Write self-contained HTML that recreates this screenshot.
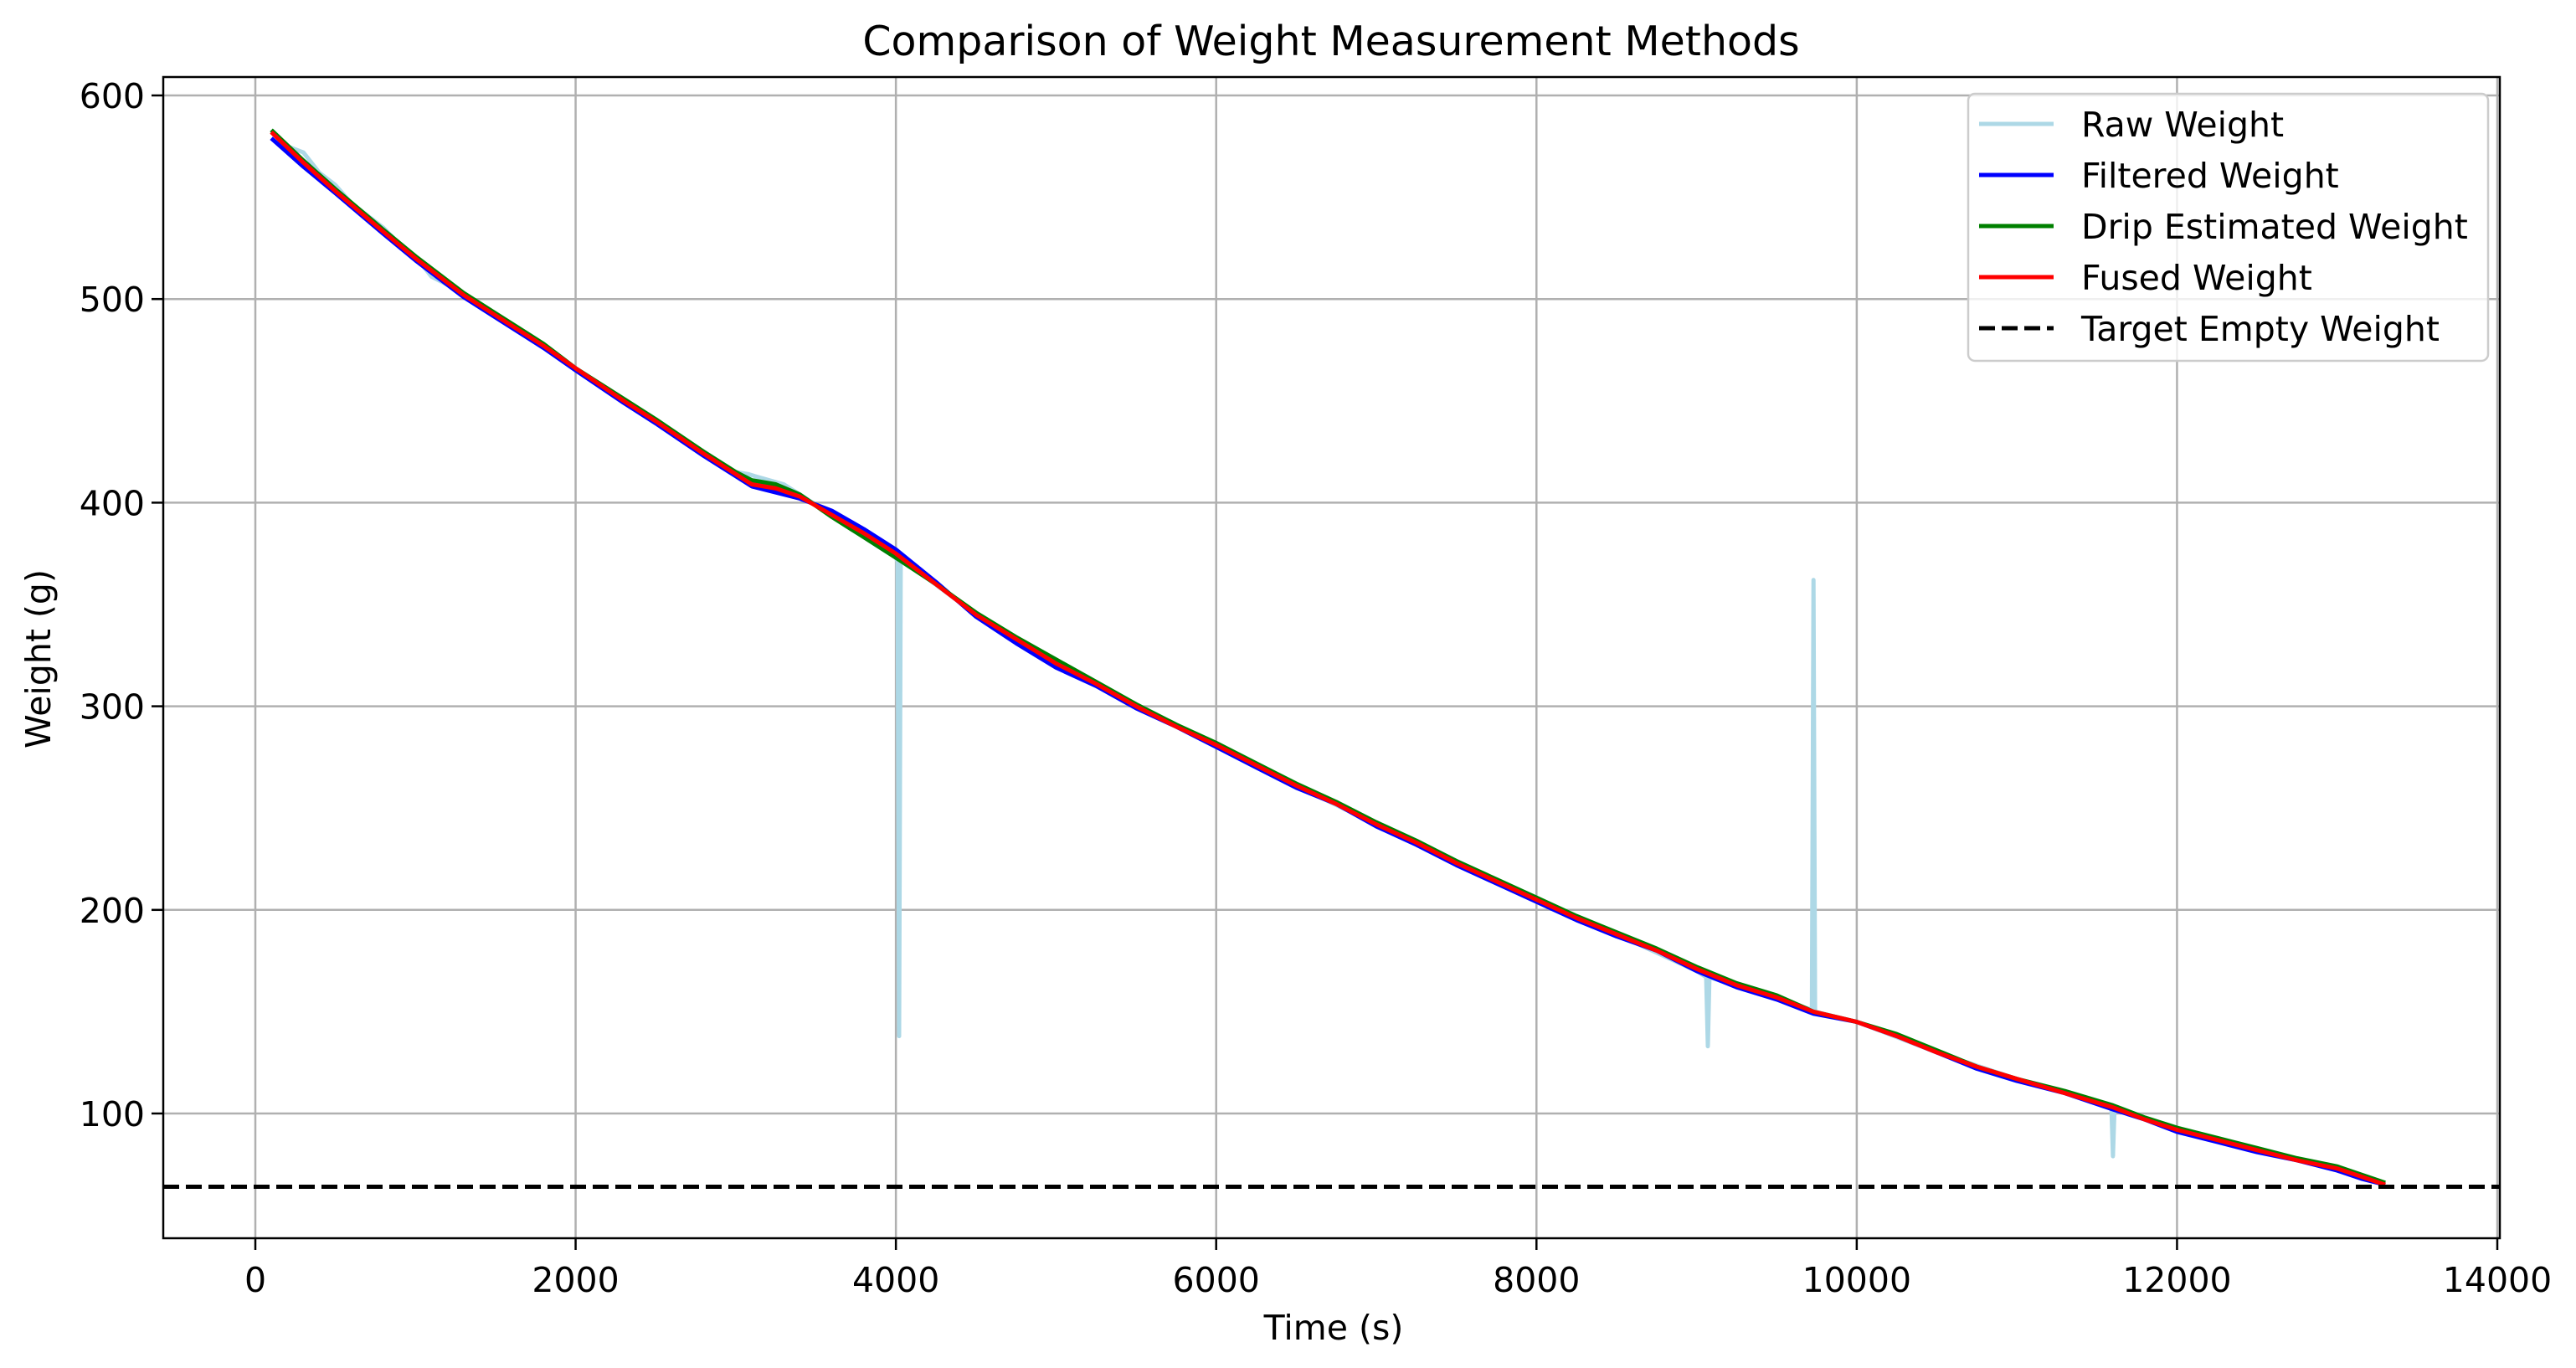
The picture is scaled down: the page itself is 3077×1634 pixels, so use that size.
<!DOCTYPE html>
<html><head><meta charset="utf-8"><style>
html,body{margin:0;padding:0;background:#fff;}
svg{display:block;font-family:"DejaVu Sans","Liberation Sans",sans-serif;}
</style></head><body>
<svg id="chart" width="3077" height="1634" viewBox="0 0 3077 1634" xmlns="http://www.w3.org/2000/svg">
<rect x="0" y="0" width="3077" height="1634" fill="#fff"/>
<g id="grid"></g>
<g id="series"></g>
<g id="axes"></g>
<text x="1590" y="66" font-size="49" text-anchor="middle">Comparison of Weight Measurement Methods</text>
<text x="1593" y="1600" font-size="41" text-anchor="middle">Time (s)</text>
<text x="60" y="787" font-size="41" text-anchor="middle" transform="rotate(-90 60 787)">Weight (g)</text>
<g id="legend"></g>
</svg>
<script>
const xTicks = [0,2000,4000,6000,8000,10000,12000,14000];
const yTicks = [100,200,300,400,500,600];
const targetWeight = 64;
const fusedT = [100,300,500,800,1000,1300,1500,1800,2000,2300,2500,2800,3000,3100,3250,3400,3600,3800,4000,4250,4500,4750,5000,5250,5500,5750,6000,6250,6500,6750,7000,7250,7500,7750,8000,8250,8500,8750,9000,9250,9500,9730,10000,10250,10500,10750,11000,11300,11600,11800,12000,12250,12500,12750,13000,13150,13300];
const fusedW = [582,567,553,533,520,502,492,477,466,450,440,424,414,409,407,403,394,385,375,360,345,333,321,311,300,290,281,271,261,252,242,233,223,214,205,196,188,180,171,163,157,150,145,138,130,123,117,110,103,97,92,87,82,77,73,69,65];
const filteredW = [579,565,552,532,519,501,491,476,465,449,439,423,413,408,405,402,396,387,377,361,344,331,319,310,299,290,280,270,260,252,241,232,222,213,204,195,187,180,170,162,156,149,145,138,130,122,116,110,102,97,91,86,81,77,72,68,65];
const dripW = [583,568,554,534,521,503,493,478,466,451,441,425,415,411,409,404,393,383,373,360,346,334,323,312,301,291,282,272,262,253,243,234,224,215,206,197,189,181,172,164,158,150,145,139,131,123,117,111,104,98,93,88,83,78,74,70,66];
const rawT = [100,200,300,400,500,600,700,800,900,1000,1100,1200,1300,1500,1800,2000,2500,3000,3080,3120,3300,3500,3800,4000,4010,4020,4030,4040,4500,5000,5500,6000,6500,7000,7500,8000,8500,9000,9060,9070,9080,9500,9720,9730,9740,10000,10500,11000,11590,11600,11610,12000,12500,13000,13300];
const rawW = [583,575,572,562,556,547,541,535,527,521,511,507,502,492,477,466,440,415,414,413,409,399,383,373,371,138,371,372,345,322,301,281,261,242,223,205,188,170,167,133,167,156,151,362,150,145,130,117,104,79,103,92,82,73,65];

const X0=305, XK=(2983-305)/14000, Y600=114, YK=2.432;
const L=195, R=2986, T=92, B=1479;
function xs(v){return X0+v*XK;}
function ys(v){return Y600+(600-v)*YK;}
const NS="http://www.w3.org/2000/svg";
function mk(tag,attrs,parent){const e=document.createElementNS(NS,tag);for(const k in attrs)e.setAttribute(k,attrs[k]);parent.appendChild(e);return e;}
const grid=document.getElementById('grid'), axes=document.getElementById('axes'), series=document.getElementById('series'), legend=document.getElementById('legend');
xTicks.forEach(t=>{
  const g=mk('line',{x1:xs(t),x2:xs(t),y1:T,y2:B,stroke:'#b0b0b0','stroke-width':2.5},grid);
  
  
  const tk=mk('line',{x1:xs(t),x2:xs(t),y1:B,y2:B+14,stroke:'#000','stroke-width':2.5},axes);
  
  
  const lb=mk('text',{x:xs(t),y:B+64,'font-size':41,'text-anchor':'middle'},axes);
  
  
  lb.textContent=t;
});
yTicks.forEach(t=>{
  const g=mk('line',{x1:L,x2:R,y1:ys(t),y2:ys(t),stroke:'#b0b0b0','stroke-width':2.5},grid);
  
  
  const tk=mk('line',{x1:L-14,x2:L,y1:ys(t),y2:ys(t),stroke:'#000','stroke-width':2.5},axes);
  
  
  const lb=mk('text',{x:L-22,y:ys(t)+15,'font-size':41,'text-anchor':'end'},axes);
  
  
  lb.textContent=t;
});
const frame=mk('rect',{x:L,y:T,width:R-L,height:B-T,fill:'none',stroke:'#000','stroke-width':2.5},axes);


function pts(ts,ws){return ts.map((t,i)=>xs(t).toFixed(1)+','+ys(ws[i]).toFixed(1)).join(' ');}
const sRaw=mk('polyline',{points:pts(rawT,rawW),fill:'none',stroke:'#add8e6','stroke-width':5,'stroke-linejoin':'round'},series);


const sFil=mk('polyline',{points:pts(fusedT,filteredW),fill:'none',stroke:'#0000ff','stroke-width':5,'stroke-linejoin':'round'},series);


const sDrip=mk('polyline',{points:pts(fusedT,dripW),fill:'none',stroke:'#008000','stroke-width':5,'stroke-linejoin':'round'},series);


const sFus=mk('polyline',{points:pts(fusedT,fusedW),fill:'none',stroke:'#ff0000','stroke-width':5,'stroke-linejoin':'round'},series);


const tgt=mk('line',{x1:L,x2:R,y1:ys(targetWeight),y2:ys(targetWeight),stroke:'#000','stroke-width':5,'stroke-dasharray':'19 8'},series);


const lbox=mk('rect',{x:2351,y:112,width:621,height:319,rx:8,fill:'#fff','fill-opacity':0.8,stroke:'#cccccc','stroke-width':2.5},legend);


const legItems=[['Raw Weight','#add8e6',null],['Filtered Weight','#0000ff',null],['Drip Estimated Weight','#008000',null],['Fused Weight','#ff0000',null],['Target Empty Weight','#000','19 8']];
legItems.forEach((it,i)=>{
  const y=148+i*61;
  const a={x1:2364,x2:2453,y1:y,y2:y,stroke:it[1],'stroke-width':5};
  if(it[2])a['stroke-dasharray']=it[2];
  const ln=mk('line',a,legend);
  
  
  const tx=mk('text',{x:2486,y:y+15,'font-size':41},legend);
  
  
  tx.textContent=it[0];
});
</script>
</body></html>
